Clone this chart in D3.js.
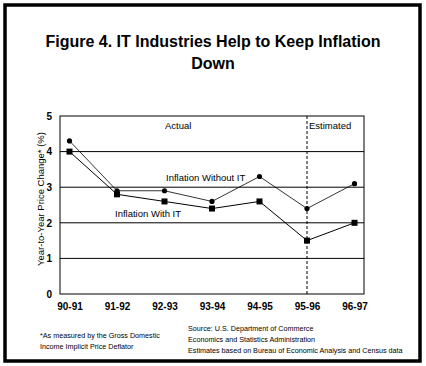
<!DOCTYPE html>
<html lang="en">
<head>
  <meta charset="UTF-8">
  <title>IT Industries Help to Keep Inflation Down</title>
  <script src="https://d3js.org/d3.v7.min.js"></script>
  <style>
    body, html {
      margin: 0;
      padding: 0;
      background: #fff;
      overflow: hidden;
    }
    svg {
      display: block;
      font-family: "Liberation Sans", Arial, sans-serif;
    }
  </style>
</head>
<body>
  <svg id="chart" width="426" height="366"></svg>

  <script>
    // data
    const periods = ["90-91", "91-92", "92-93", "93-94", "94-95", "95-96", "96-97"];
    const withoutIT = [4.3, 2.9, 2.9, 2.6, 3.3, 2.4, 3.1];
    const withIT = [4.0, 2.8, 2.6, 2.4, 2.6, 1.5, 2.0];
    const yTicks = [0, 1, 2, 3, 4, 5];
    const estimateStart = "95-96";

    const svg = d3.select("#chart");

    // outer frame
    svg.append("rect")
      .attr("x", 5).attr("y", 5)
      .attr("width", 415).attr("height", 356)
      .attr("fill", "none")
      .attr("stroke", "#000")
      .attr("stroke-width", 3.5);

    // title
    const title = svg.append("text")
      .attr("text-anchor", "middle")
      .attr("font-size", 16)
      .attr("font-weight", "bold");
    title.append("tspan").attr("x", 213).attr("y", 47).text("Figure 4. IT Industries Help to Keep Inflation");
    title.append("tspan").attr("x", 213).attr("y", 69).text("Down");

    const plot = { left: 60, right: 364, top: 116, bottom: 294 };

    const x = d3.scalePoint()
      .domain(periods)
      .range([plot.left, plot.right])
      .padding(0.2);

    const y = d3.scaleLinear()
      .domain([0, 5])
      .range([plot.bottom, plot.top]);

    // horizontal gridlines
    svg.append("g")
      .selectAll("line")
      .data(yTicks.slice(1, -1))
      .join("line")
      .attr("x1", plot.left).attr("x2", plot.right)
      .attr("y1", d => y(d)).attr("y2", d => y(d))
      .attr("stroke", "#000")
      .attr("stroke-width", 1);

    // plot box
    svg.append("rect")
      .attr("x", plot.left).attr("y", plot.top)
      .attr("width", plot.right - plot.left)
      .attr("height", plot.bottom - plot.top)
      .attr("fill", "none")
      .attr("stroke", "#000")
      .attr("stroke-width", 1);

    // axes (lines hidden, only labels)
    const yAxis = svg.append("g")
      .attr("transform", `translate(${plot.left},0)`)
      .call(d3.axisLeft(y).tickValues(yTicks).tickSize(0).tickPadding(8).tickFormat(d3.format("d")));
    yAxis.select(".domain").remove();
    yAxis.selectAll("text")
      .attr("font-family", "Liberation Sans, Arial, sans-serif")
      .attr("font-size", 10)
      .attr("font-weight", "bold")
      .attr("fill", "#000");

    const xAxis = svg.append("g")
      .attr("transform", `translate(0,${plot.bottom})`)
      .call(d3.axisBottom(x).tickSize(0).tickPadding(9));
    xAxis.select(".domain").remove();
    xAxis.selectAll("text")
      .attr("font-family", "Liberation Sans, Arial, sans-serif")
      .attr("font-size", 10)
      .attr("font-weight", "bold")
      .attr("fill", "#000");

    // y axis title
    svg.append("text")
      .attr("transform", "translate(44,199) rotate(-90)")
      .attr("text-anchor", "middle")
      .attr("font-size", 9.5)
      .text("Year-to-Year Price Change* (%)");

    // dashed divider between actual and estimated
    svg.append("line")
      .attr("x1", x(estimateStart)).attr("x2", x(estimateStart))
      .attr("y1", plot.top).attr("y2", plot.bottom)
      .attr("stroke", "#000")
      .attr("stroke-width", 1)
      .attr("stroke-dasharray", "3,2");

    const line = d3.line()
      .x((d, i) => x(periods[i]))
      .y(d => y(d));

    // inflation without IT - circles
    svg.append("path")
      .datum(withoutIT)
      .attr("d", line)
      .attr("fill", "none")
      .attr("stroke", "#000")
      .attr("stroke-width", 0.8);
    svg.append("g")
      .selectAll("circle")
      .data(withoutIT)
      .join("circle")
      .attr("cx", (d, i) => x(periods[i]))
      .attr("cy", d => y(d))
      .attr("r", 2.6)
      .attr("fill", "#000");

    // inflation with IT - squares
    svg.append("path")
      .datum(withIT)
      .attr("d", line)
      .attr("fill", "none")
      .attr("stroke", "#000")
      .attr("stroke-width", 1);
    svg.append("g")
      .selectAll("rect")
      .data(withIT)
      .join("rect")
      .attr("x", (d, i) => x(periods[i]) - 3)
      .attr("y", d => y(d) - 3)
      .attr("width", 6)
      .attr("height", 6)
      .attr("fill", "#000");

    // in-plot labels
    const labels = svg.append("g").attr("font-size", 9.5);
    labels.append("text").attr("x", 165).attr("y", 129).text("Actual");
    labels.append("text").attr("x", 309).attr("y", 129).text("Estimated");
    labels.append("text").attr("x", 166).attr("y", 181).text("Inflation Without IT");
    labels.append("text").attr("x", 115).attr("y", 217).text("Inflation With IT");

    // footnotes
    const notes = svg.append("g").attr("font-size", 7.2);
    notes.append("text").attr("x", 40).attr("y", 337.5).text("*As measured by the Gross Domestic");
    notes.append("text").attr("x", 40).attr("y", 348.5).text("Income Implicit Price Deflator");
    notes.append("text").attr("x", 188).attr("y", 331).text("Source: U.S. Department of Commerce");
    notes.append("text").attr("x", 188).attr("y", 342).text("Economics and Statistics Administration");
    notes.append("text").attr("x", 188).attr("y", 353).text("Estimates based on Bureau of Economic Analysis and Census data");
  </script>
</body>
</html>
